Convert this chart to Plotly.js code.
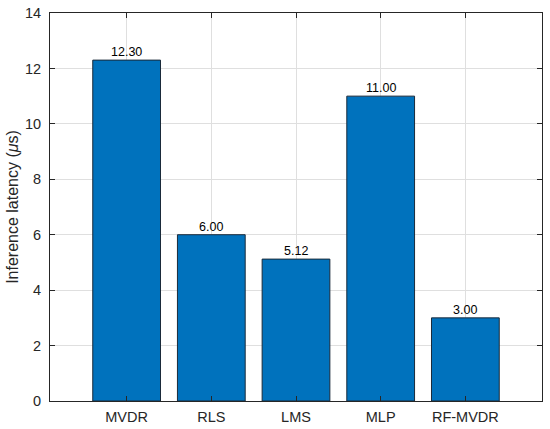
<!DOCTYPE html>
<html>
<head>
<meta charset="utf-8">
<script src="https://cdn.plot.ly/plotly-3.0.1.min.js"></script>
<style>html,body{margin:0;padding:0;background:#fff;}#chart{width:550px;height:429px;}</style>
</head>
<body>
<div id="chart"></div>
<script>
const categories = ["MVDR", "RLS", "LMS", "MLP", "RF-MVDR"];
const latency = [12.30, 6.00, 5.12, 11.00, 3.00];
const yTicks = [0, 2, 4, 6, 8, 10, 12, 14];

const axisColor = "#262626";
const gridColor = "#dfdfdf";
const font = "Liberation Sans, Arial, Helvetica, sans-serif";

const trace = {
  type: "bar",
  x: categories,
  y: latency,
  width: 0.8,
  marker: { color: "#0072BD", line: { color: "#1a2a3a", width: 1 } },
  hoverinfo: "skip"
};

const labels = categories.map((c, i) => ({
  x: c, y: latency[i], xref: "x", yref: "y",
  text: latency[i].toFixed(2),
  showarrow: false, yanchor: "bottom", xanchor: "center",
  yshift: -1,
  font: { family: font, size: 12.5, color: "#000" }
}));

const layout = {
  width: 550,
  height: 429,
  margin: { l: 50, r: 8, t: 13, b: 28 },
  paper_bgcolor: "#fff",
  plot_bgcolor: "#fff",
  showlegend: false,
  font: { family: font, color: axisColor },
  annotations: labels,
  xaxis: {
    type: "category",
    range: [-0.905, 4.905],
    showline: true, linecolor: axisColor, linewidth: 1, mirror: "ticks",
    ticks: "inside", ticklen: 5, tickcolor: axisColor,
    showgrid: true, gridcolor: gridColor, gridwidth: 1,
    tickfont: { family: font, size: 14.5, color: axisColor },
    ticklabelstandoff: 3,
    zeroline: false
  },
  yaxis: {
    range: [0, 14],
    tickvals: yTicks,
    ticktext: yTicks.map(String),
    showline: true, linecolor: axisColor, linewidth: 1, mirror: "ticks",
    ticks: "inside", ticklen: 5, tickcolor: axisColor,
    showgrid: true, gridcolor: gridColor, gridwidth: 1,
    tickfont: { family: font, size: 14.5, color: axisColor },
    ticklabelstandoff: 5,
    zeroline: false,
    title: { text: "Inference latency (<i>μ</i>s)", font: { family: font, size: 16, color: axisColor }, standoff: 2 }
  },
  bargap: 0.2
};

Plotly.newPlot("chart", [trace], layout, { staticPlot: true, displayModeBar: false });
</script>
</body>
</html>
